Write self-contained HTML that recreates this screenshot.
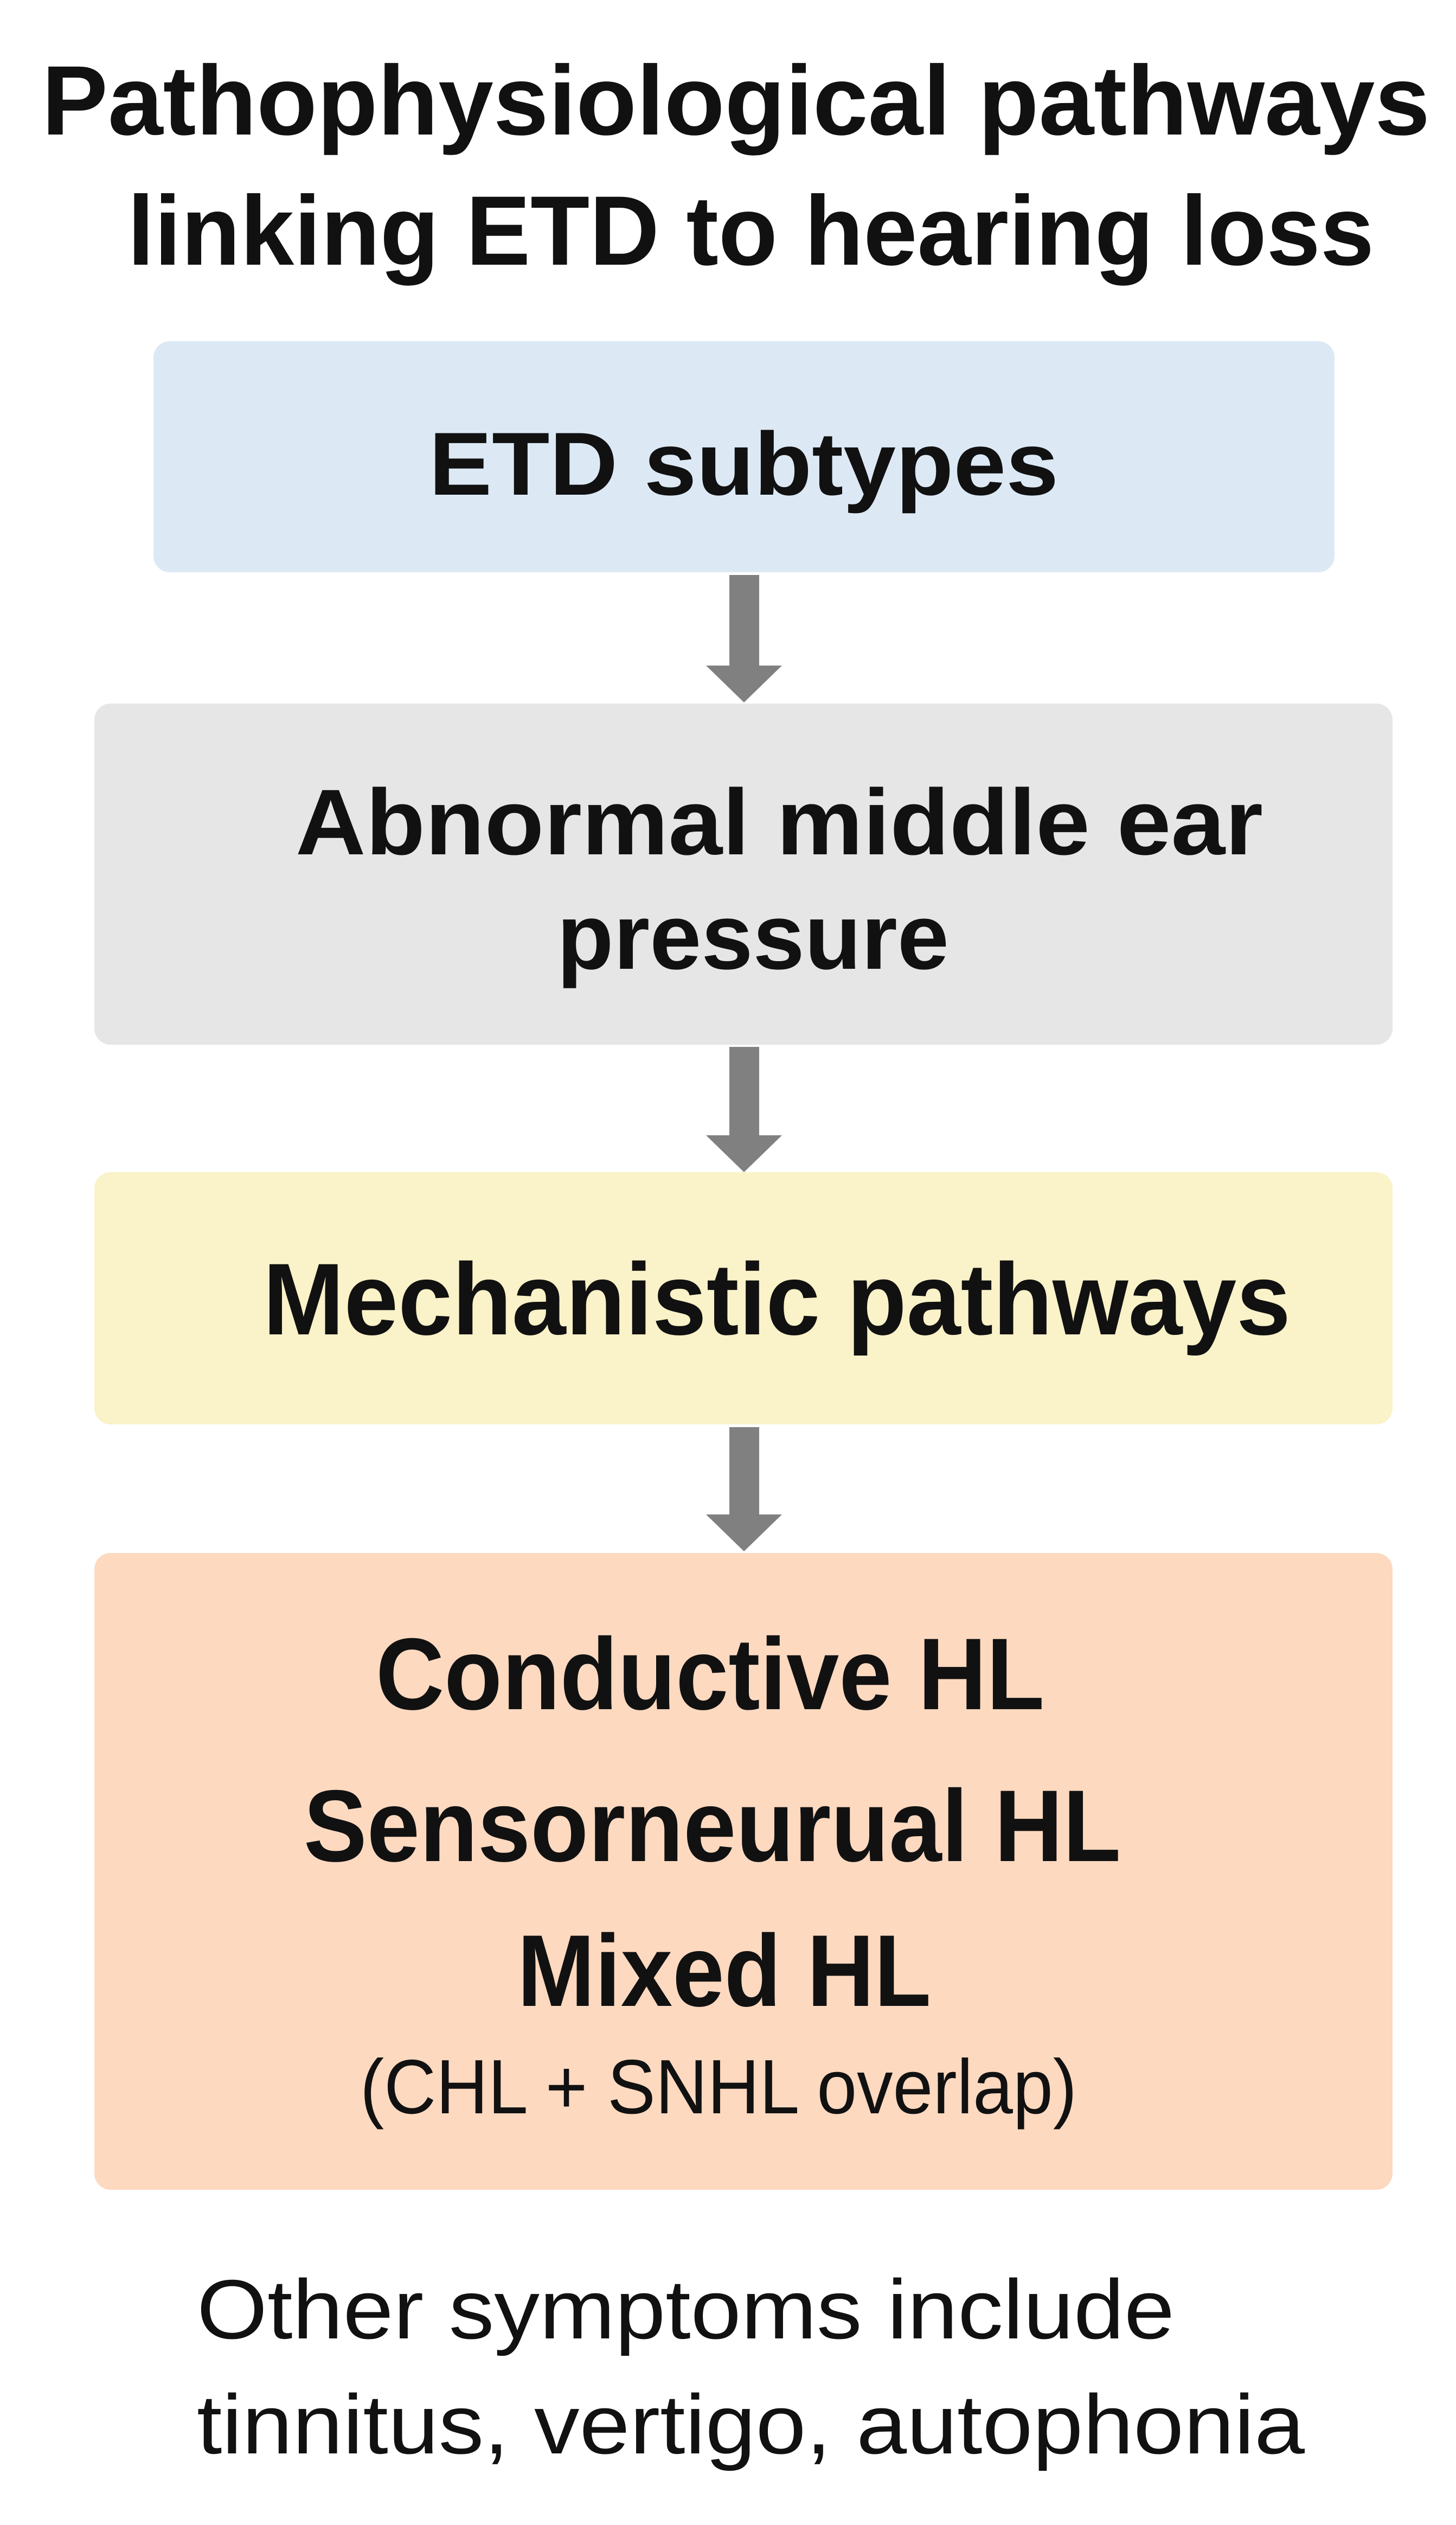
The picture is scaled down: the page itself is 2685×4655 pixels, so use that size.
<!DOCTYPE html>
<html><head><meta charset="utf-8"><style>html,body{margin:0;padding:0;background:#fff}svg{display:block}</style></head>
<body>
<svg xmlns="http://www.w3.org/2000/svg" width="2685" height="4655" viewBox="0 0 2685 4655">
<rect width="2685" height="4655" fill="#fff"/>
<g font-family="Liberation Sans, sans-serif" fill="#111">
<text x="77" y="248" font-size="182" font-weight="bold" textLength="2560" lengthAdjust="spacingAndGlyphs">Pathophysiological pathways</text>
<text x="235" y="488" font-size="182" font-weight="bold" textLength="2299" lengthAdjust="spacingAndGlyphs">linking ETD to hearing loss</text>
</g>
<rect x="283" y="629" width="2178" height="426" rx="30" fill="#dce9f5"/>
<rect x="174" y="1297" width="2394" height="629" rx="30" fill="#e6e6e6"/>
<rect x="174" y="2161" width="2394" height="465" rx="30" fill="#faf2c8"/>
<rect x="174" y="2863" width="2394" height="1174" rx="30" fill="#fdd9c0"/>
<g fill="#808080">
<polygon points="1345,1060 1400,1060 1400,1227 1442,1227 1372,1295 1302,1227 1345,1227"/>
<polygon points="1345,1930 1400,1930 1400,2093 1442,2093 1372,2161 1302,2093 1345,2093"/>
<polygon points="1345,2631 1400,2631 1400,2792 1442,2792 1372,2860 1302,2792 1345,2792"/>
</g>
<g font-family="Liberation Sans, sans-serif" fill="#111">
<text x="791" y="912" font-size="165" font-weight="bold" textLength="1161" lengthAdjust="spacingAndGlyphs">ETD subtypes</text>
<text x="545" y="1575" font-size="172" font-weight="bold" textLength="1784" lengthAdjust="spacingAndGlyphs">Abnormal middle ear</text>
<text x="1027" y="1786" font-size="172" font-weight="bold" textLength="723" lengthAdjust="spacingAndGlyphs">pressure</text>
<text x="485" y="2460" font-size="188" font-weight="bold" textLength="1895" lengthAdjust="spacingAndGlyphs">Mechanistic pathways</text>
<text x="693" y="3151" font-size="188" font-weight="bold" textLength="1233" lengthAdjust="spacingAndGlyphs">Conductive HL</text>
<text x="560" y="3431" font-size="188" font-weight="bold" textLength="1507" lengthAdjust="spacingAndGlyphs">Sensorneurual HL</text>
<text x="954" y="3698" font-size="188" font-weight="bold" textLength="763" lengthAdjust="spacingAndGlyphs">Mixed HL</text>
<text x="664" y="3896" font-size="142" textLength="1322" lengthAdjust="spacingAndGlyphs">(CHL + SNHL overlap)</text>
<text x="363" y="4311" font-size="155" textLength="1803" lengthAdjust="spacingAndGlyphs">Other symptoms include</text>
<text x="363" y="4523" font-size="155" textLength="2043" lengthAdjust="spacingAndGlyphs">tinnitus, vertigo, autophonia</text>
</g>
</svg>
</body></html>
